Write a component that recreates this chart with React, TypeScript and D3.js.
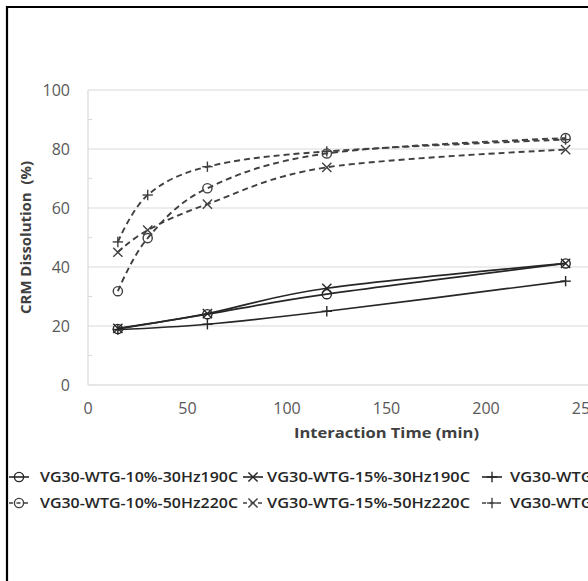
import React from "react";
import * as d3 from "d3";

const times = [15, 30, 60, 120, 240];
const solidTimes = [15, 60, 120, 240];

const s10_30Hz = [19, 24, 30.8, 41.2];
const s15_30Hz = [19.2, 24.2, 32.8, 41.2];
const s20_30Hz = [18.8, 20.6, 25, 35.2];

const s10_50Hz = [31.8, 49.8, 66.7, 78.5, 83.7];
const s15_50Hz = [45, 52.5, 61.3, 73.8, 79.8];
const s20_50Hz = [48.5, 64.4, 74, 79.2, 83.2];

const seriesNames = [
  "VG30-WTG-10%-30Hz190C",
  "VG30-WTG-15%-30Hz190C",
  "VG30-WTG-20%-30Hz190C",
  "VG30-WTG-10%-50Hz220C",
  "VG30-WTG-15%-50Hz220C",
  "VG30-WTG-20%-50Hz220C",
];
const seriesMarkers = ["circle", "x", "plus", "circle", "x", "plus"];
const seriesDashed = [false, false, false, true, true, true];
const seriesValues = [s10_30Hz, s15_30Hz, s20_30Hz, s10_50Hz, s15_50Hz, s20_50Hz];
const seriesTimes = [solidTimes, solidTimes, solidTimes, times, times, times];

const xTicks = [0, 50, 100, 150, 200, 250, 300];
const yTicks = [0, 20, 40, 60, 80, 100];
const yMinorTicks = [10, 30, 50, 70, 90];

const W = 588;
const H = 581;

function Marker({ type, x, y, color }: { type: string; x: number; y: number; color: string }) {
  if (type === "circle") {
    return <circle cx={x} cy={y} r={4.6} fill="none" stroke={color} strokeWidth={1.4} />;
  }
  if (type === "x") {
    const s = 4.6;
    return (
      <g stroke={color} strokeWidth={1.4}>
        <line x1={x - s} y1={y - s} x2={x + s} y2={y + s} />
        <line x1={x - s} y1={y + s} x2={x + s} y2={y - s} />
      </g>
    );
  }
  const s = 5.2;
  return (
    <g stroke={color} strokeWidth={1.4}>
      <line x1={x - s} y1={y} x2={x + s} y2={y} />
      <line x1={x} y1={y - s} x2={x} y2={y + s} />
    </g>
  );
}

export default function App() {
  const x = d3.scaleLinear().domain([0, 300]).range([88, 685]);
  const y = d3.scaleLinear().domain([0, 100]).range([385, 90]);
  const line = d3
    .line<[number, number]>()
    .x((d) => x(d[0]))
    .y((d) => y(d[1]))
    .curve(d3.curveCardinal.tension(0));

  const lineColor = "#262626";
  const dashColor = "#404040";

  const legendRows = [477, 503];
  const legendSymX = [19, 253, 492];
  const legendTextX = [40, 267, 510];
  const legendTextLen = [198, 203, 203];

  return (
    <svg
      width={W}
      height={H}
      style={{ position: "absolute", left: 0, top: 0, background: "#fff" }}
      fontFamily="'Open Sans', sans-serif"
    >
      <rect x={0} y={0} width={W} height={H} fill="#fff" />
      {/* border */}
      <line x1={7} y1={7} x2={W} y2={7} stroke="#000" strokeWidth={2.2} />
      <line x1={7} y1={6} x2={7} y2={H} stroke="#000" strokeWidth={2.2} />

      {/* gridlines */}
      {yTicks.map((t) => (
        <line
          key={"g" + t}
          x1={x(0)}
          x2={x(300)}
          y1={y(t)}
          y2={y(t)}
          stroke={t === 0 ? "#cfcfcf" : "#d9d9d9"}
          strokeWidth={1.2}
        />
      ))}
      <line x1={x(0)} x2={x(0)} y1={y(100)} y2={y(0)} stroke="#d9d9d9" strokeWidth={1.2} />
      {yMinorTicks.map((t) => (
        <line key={"m" + t} x1={x(0)} x2={x(0) + 4} y1={y(t)} y2={y(t)} stroke="#d9d9d9" strokeWidth={1.2} />
      ))}

      {/* y tick labels */}
      {yTicks.map((t) => (
        <text key={"yl" + t} x={70} y={y(t)} dy="0.36em" textAnchor="end" fontSize={16} fill="#595959">
          {t}
        </text>
      ))}
      {/* x tick labels */}
      {xTicks.map((t) => (
        <text key={"xl" + t} x={x(t)} y={408} dy="0.36em" textAnchor="middle" fontSize={16} fill="#595959">
          {t}
        </text>
      ))}

      {/* axis titles */}
      <text
        x={x(150)}
        y={433}
        dy="0.36em"
        textAnchor="middle"
        fontSize={15}
        fontWeight="bold"
        fill="#404040"
        textLength={185}
        lengthAdjust="spacingAndGlyphs"
      >
        Interaction Time (min)
      </text>
      <text
        transform={`translate(26, ${(y(0) + y(100)) / 2}) rotate(-90)`}
        dy="0.36em"
        textAnchor="middle"
        fontSize={15}
        fontWeight="bold"
        fill="#404040"
        textLength={153}
        lengthAdjust="spacingAndGlyphs"
        style={{ whiteSpace: "pre" }}
      >
        {"CRM Dissolution  (%)"}
      </text>

      {/* series lines */}
      {seriesValues.map((vals, i) => {
        const pts = vals.map((v, j) => [seriesTimes[i][j], v] as [number, number]);
        return (
          <path
            key={"p" + i}
            d={line(pts) || ""}
            fill="none"
            stroke={seriesDashed[i] ? dashColor : lineColor}
            strokeWidth={seriesDashed[i] ? 1.9 : 1.7}
            strokeDasharray={seriesDashed[i] ? "6,4" : undefined}
          />
        );
      })}
      {/* markers */}
      {seriesValues.map((vals, i) => (
        <g key={"mk" + i}>
          {vals.map((v, j) => (
            <Marker
              key={j}
              type={seriesMarkers[i]}
              x={x(seriesTimes[i][j])}
              y={y(v)}
              color={seriesDashed[i] ? dashColor : lineColor}
            />
          ))}
        </g>
      ))}

      {/* legend */}
      {seriesNames.map((name, i) => {
        const row = Math.floor(i / 3);
        const col = i % 3;
        const cy = legendRows[row];
        const cx = legendSymX[col];
        const color = seriesDashed[i] ? dashColor : lineColor;
        return (
          <g key={"lg" + i}>
            <line
              x1={cx - 10}
              x2={cx + 10}
              y1={cy}
              y2={cy}
              stroke={color}
              strokeWidth={1.6}
              strokeDasharray={seriesDashed[i] ? "4,3.5" : undefined}
            />
            <Marker type={seriesMarkers[i]} x={cx} y={cy} color={color} />
            <text
              x={legendTextX[col]}
              y={cy}
              dy="0.36em"
              fontSize={14}
              fontWeight={600}
              fill="#262626"
              textLength={legendTextLen[col]}
              lengthAdjust="spacingAndGlyphs"
            >
              {name}
            </text>
          </g>
        );
      })}
    </svg>
  );
}
